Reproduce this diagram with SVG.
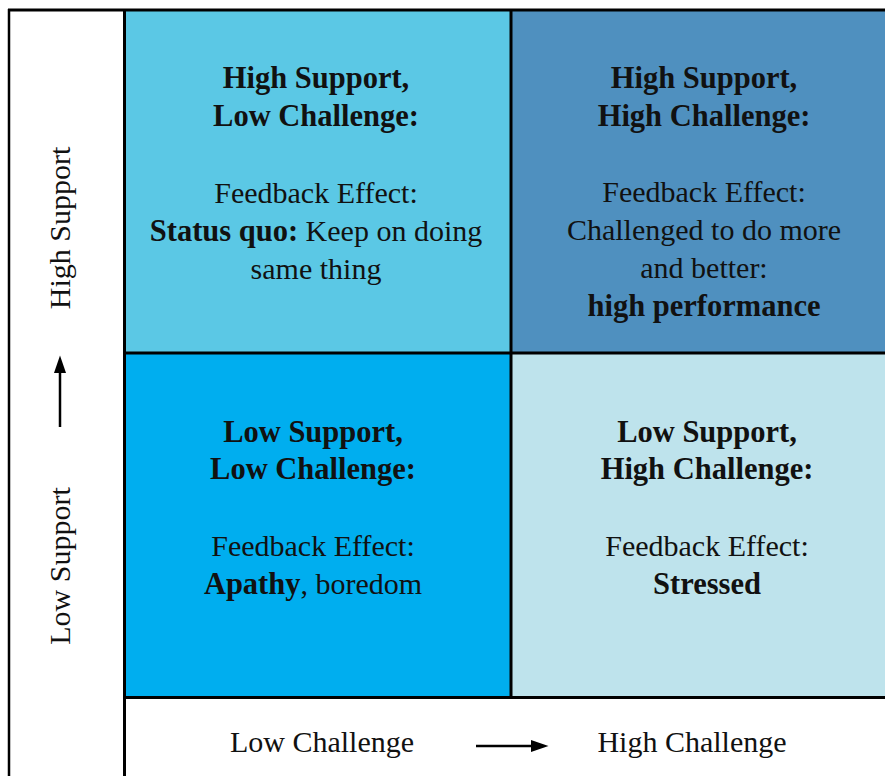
<svg xmlns="http://www.w3.org/2000/svg" width="885" height="776" viewBox="0 0 885 776">
  <defs>
    <style>
      text { font-family: "Liberation Serif", "Times New Roman", serif; font-size: 30px; fill: #111; text-anchor: middle; }
      .b { font-weight: bold; font-size: 30.5px; }
      .grid { stroke: #000; stroke-width: 3; fill: none; }
      .axis { stroke: #000; stroke-width: 2.5; fill: none; }
    </style>
    <marker id="head" markerUnits="userSpaceOnUse" markerWidth="18" markerHeight="14" viewBox="0 0 18 14" refX="0" refY="7" orient="auto">
      <path d="M0,1 L17.5,7 L0,13 z" fill="#000"/>
    </marker>
  </defs>

  <rect width="885" height="776" fill="#fff"/>

  <!-- top-left quadrant -->
  <g id="high-support-low-challenge">
    <rect x="124" y="10" width="387" height="343" fill="#5BC8E5"/>
    <text class="b" x="316" y="88">High Support,</text>
    <text class="b" x="316" y="126">Low Challenge:</text>
    <text x="316" y="203">Feedback Effect:</text>
    <text x="316" y="241"><tspan class="b">Status quo:</tspan> Keep on doing</text>
    <text x="316" y="279">same thing</text>
  </g>

  <!-- top-right quadrant -->
  <g id="high-support-high-challenge">
    <rect x="511" y="10" width="374" height="343" fill="#4F90BF"/>
    <text class="b" x="704" y="88">High Support,</text>
    <text class="b" x="704" y="126">High Challenge:</text>
    <text x="704" y="202">Feedback Effect:</text>
    <text x="704" y="240">Challenged to do more</text>
    <text x="704" y="278">and better:</text>
    <text class="b" x="704" y="316">high performance</text>
  </g>

  <!-- bottom-left quadrant -->
  <g id="low-support-low-challenge">
    <rect x="124" y="353" width="387" height="344" fill="#00AEEF"/>
    <text class="b" x="313" y="442">Low Support,</text>
    <text class="b" x="313" y="479">Low Challenge:</text>
    <text x="313" y="556">Feedback Effect:</text>
    <text x="313" y="594"><tspan class="b">Apathy</tspan>, boredom</text>
  </g>

  <!-- bottom-right quadrant -->
  <g id="low-support-high-challenge">
    <rect x="511" y="353" width="374" height="344" fill="#BEE3EC"/>
    <text class="b" x="707" y="442">Low Support,</text>
    <text class="b" x="707" y="479">High Challenge:</text>
    <text x="707" y="556">Feedback Effect:</text>
    <text class="b" x="707" y="594">Stressed</text>
  </g>

  <!-- frame and quadrant dividers -->
  <g id="frame">
    <line x1="9" y1="9" x2="9" y2="776" stroke="#000" stroke-width="2.5"/>
    <line class="grid" x1="8" y1="10" x2="885" y2="10"/>
    <line class="grid" x1="124.5" y1="9" x2="124.5" y2="776"/>
    <line class="grid" x1="511" y1="10" x2="511" y2="697"/>
    <line class="grid" x1="124" y1="353" x2="885" y2="353"/>
    <line class="grid" x1="124" y1="697.5" x2="885" y2="697.5"/>
  </g>

  <!-- axis labels -->
  <g id="support-axis">
    <text transform="translate(70,228) rotate(-90)">High Support</text>
    <text transform="translate(70,566) rotate(-90)">Low Support</text>
  </g>
  <g id="challenge-axis">
    <text x="322" y="752">Low Challenge</text>
    <text x="692" y="752">High Challenge</text>
  </g>

  <!-- axis direction arrows -->
  <g id="connectors">
    <line class="axis" x1="60" y1="427" x2="60" y2="373" marker-end="url(#head)"/>
    <line class="axis" x1="476" y1="746" x2="531" y2="746" marker-end="url(#head)"/>
  </g>
</svg>
